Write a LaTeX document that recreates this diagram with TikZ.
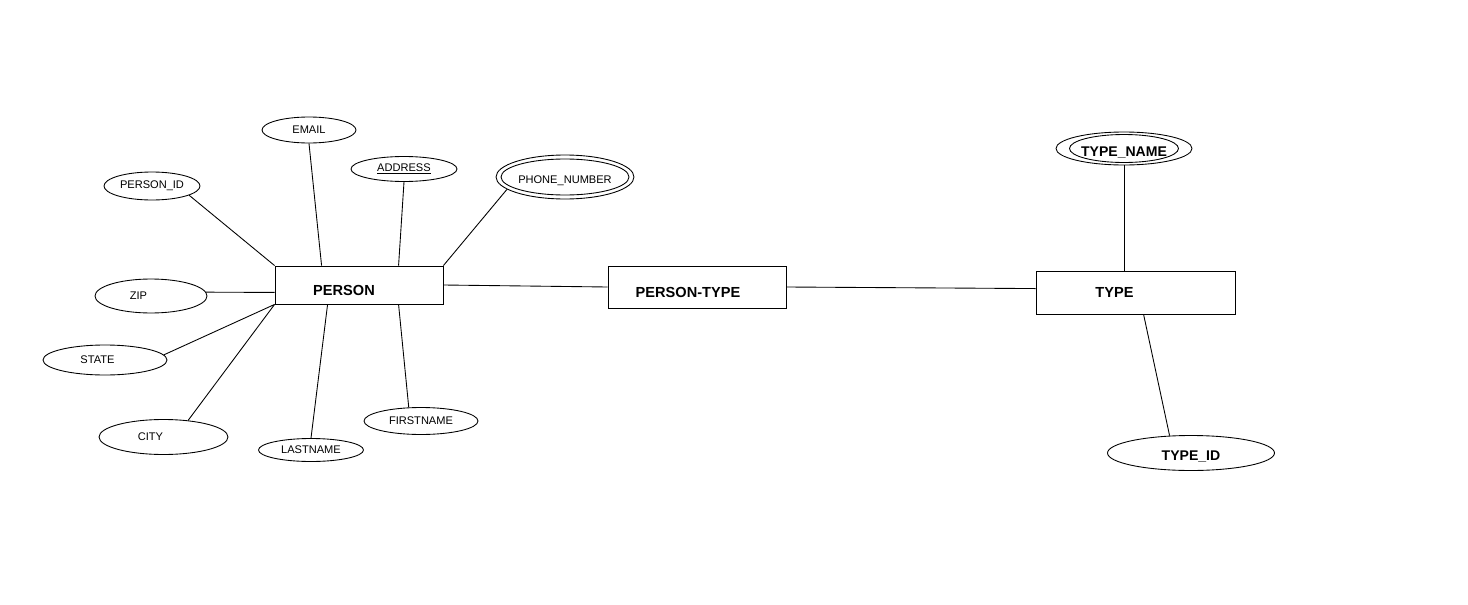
\documentclass[tikz,border=0pt]{standalone}
\usepackage{fontspec}
\setmainfont{Liberation Sans}
\usetikzlibrary{shapes.geometric,calc}
\tikzset{
  attr/.style={draw, ellipse, inner sep=0pt, font=\fontsize{6.3}{7}\selectfont},
  keyattr/.style={attr, font=\fontsize{8}{9}\selectfont\bfseries, text depth=0pt, text height=9pt},
  entity/.style={draw, rectangle, inner sep=0pt, text depth=0pt, text height=11.5pt,
    font=\fontsize{8.3}{9}\selectfont\bfseries},
}
\begin{document}
\begin{tikzpicture}[x=0.02cm, y=-0.02cm, line width=0.5pt]
  \useasboundingbox (0,0) rectangle (1468,605);
  % entities
  \node[entity, minimum width=3.36cm, minimum height=0.76cm] (person) at (359,285) {PERSON\hspace*{0.6cm}};
  \node[entity, minimum width=3.56cm, minimum height=0.84cm] (ptype) at (697,287) {PERSON-TYPE\hspace*{0.36cm}};
  \node[entity, text height=6pt, minimum width=3.98cm, minimum height=0.86cm] (type) at (1135.5,292.5) {TYPE\hspace*{0.84cm}};
  % attributes of person
  \node[attr, minimum width=1.88cm, minimum height=0.52cm] (email) at (309,130) {EMAIL};
  \node[attr, minimum width=1.92cm, minimum height=0.56cm] (pid) at (152,186) {PERSON\_ID};
  \node[attr, minimum width=2.12cm, minimum height=0.5cm] (addr) at (404,169) {\underline{ADDRESS}};
  \node[attr, text depth=0pt, text height=7pt, minimum width=2.76cm, minimum height=0.88cm] (phone) at (565,177) {PHONE\_NUMBER};
  \draw (phone.center) ellipse [x radius=1.28cm, y radius=0.36cm];
  \node[attr, minimum width=2.24cm, minimum height=0.68cm] (zip) at (151,296) {ZIP\hspace*{0.5cm}};
  \node[attr, minimum width=2.48cm, minimum height=0.6cm] (state) at (105,360) {STATE\hspace*{0.3cm}};
  \node[attr, minimum width=2.58cm, minimum height=0.7cm] (city) at (163.5,437) {CITY\hspace*{0.52cm}};
  \node[attr, minimum width=2.1cm, minimum height=0.46cm] (lname) at (311,450) {LASTNAME};
  \node[attr, minimum width=2.28cm, minimum height=0.54cm] (fname) at (421,421) {FIRSTNAME};
  % attributes of type
  \node[keyattr, minimum width=2.72cm, minimum height=0.66cm] (tname) at (1124,148.5) {TYPE\_NAME};
  \draw (tname.center) ellipse [x radius=1.09cm, y radius=0.28cm];
  \node[keyattr, minimum width=3.34cm, minimum height=0.7cm] (tid) at (1191,453) {TYPE\_ID};
  % links
  \draw (pid.-14) -- (person.north west);
  \draw (email.south) -- ($(person.north west)+(47,0)$);
  \draw (addr.south) -- ($(person.north west)+(124,0)$);
  \draw (phone.192) -- (person.north east);
  \draw (zip.4) -- ($(person.south west)+(0,-12)$);
  \draw (state.5) -- (person.south west);
  \draw (city.34) -- (person.south west);
  \draw (lname.north) -- ($(person.south west)+(53,0)$);
  \draw (fname.132) -- ($(person.south west)+(124,0)$);
  \draw (person.east) -- (ptype.west);
  \draw (ptype.east) -- ($(type.north west)+(0,18)$);
  \draw (tname.south) -- (tname.south |- type.north);
  \draw ($(type.south west)+(108,0)$) -- (tid.141);
\end{tikzpicture}
\end{document}
